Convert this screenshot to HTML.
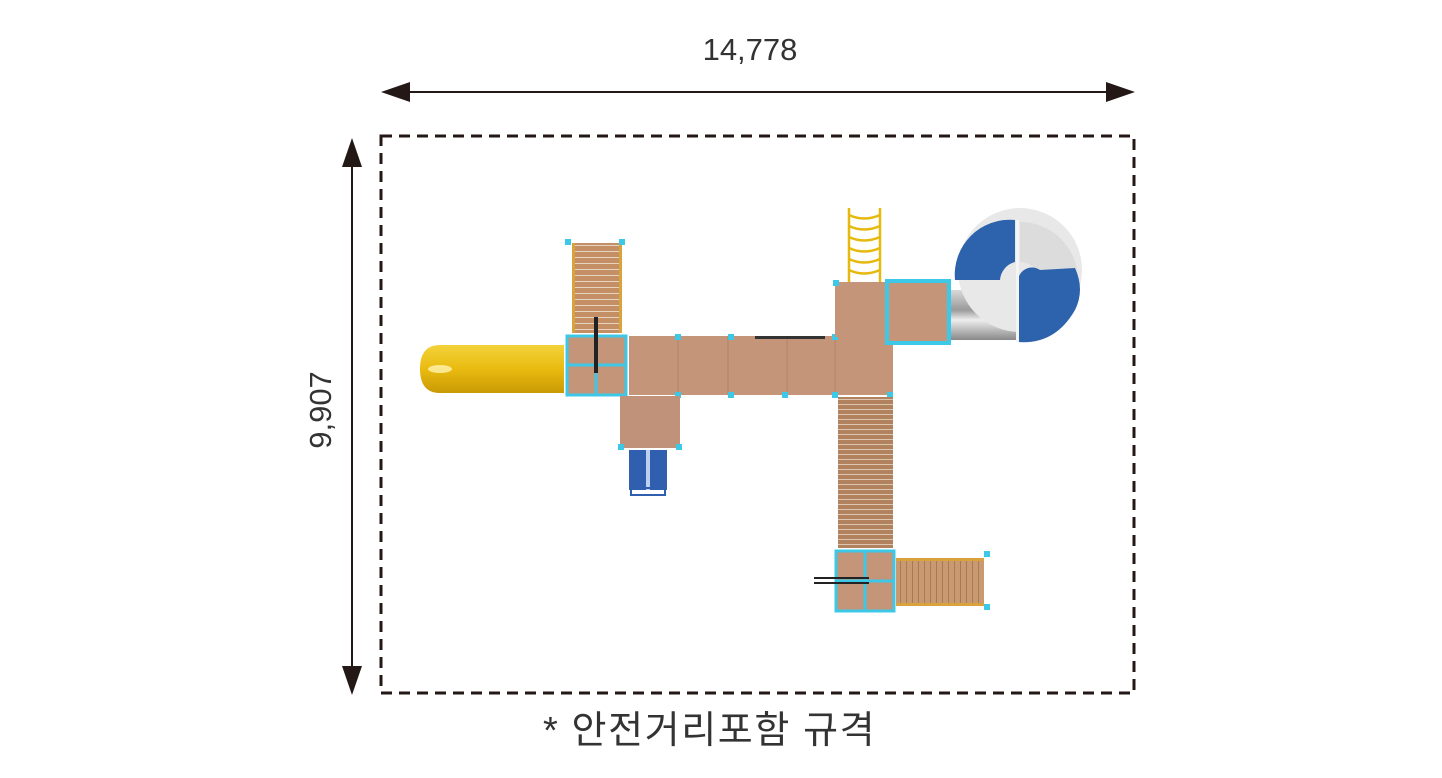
<!DOCTYPE html>
<html><head><meta charset="utf-8"><style>
html,body{margin:0;padding:0;background:#fff;width:1442px;height:778px;overflow:hidden}
svg{display:block}
</style></head><body>
<svg width="1442" height="778" viewBox="0 0 1442 778" xmlns="http://www.w3.org/2000/svg">
<defs>
<pattern id="wh" width="6" height="56" patternUnits="userSpaceOnUse"><rect width="6" height="56" fill="#c99a72"/><rect width="1" height="56" fill="#a87a55"/></pattern>
<pattern id="wv" width="56" height="6" patternUnits="userSpaceOnUse"><rect width="56" height="6" fill="#c48f65"/><rect y="5" width="56" height="1" fill="#e6d3c0"/></pattern>
<pattern id="wv2" width="56" height="5" patternUnits="userSpaceOnUse"><rect width="56" height="5" fill="#b2825f"/><rect y="4" width="56" height="1" fill="#dcc6b2"/></pattern>
<linearGradient id="yel" x1="0" y1="0" x2="0" y2="1"><stop offset="0" stop-color="#f3d23a"/><stop offset=".5" stop-color="#e9bb10"/><stop offset="1" stop-color="#c99a05"/></linearGradient>
<linearGradient id="gr" x1="0" y1="0" x2="0" y2="1"><stop offset="0" stop-color="#d9d9d9"/><stop offset=".4" stop-color="#9a9a9a"/><stop offset=".6" stop-color="#eee"/><stop offset="1" stop-color="#888"/></linearGradient>
</defs>

<line x1="405" y1="92" x2="1110" y2="92" stroke="#231815" stroke-width="2"/>
<polygon points="381,92 410,82 410,102" fill="#231815"/>
<polygon points="1135,92 1106,82 1106,102" fill="#231815"/>
<text x="750" y="60" text-anchor="middle" font-family="Liberation Sans, sans-serif" font-size="31" fill="#333">14,778</text>

<line x1="352" y1="165" x2="352" y2="670" stroke="#231815" stroke-width="2"/>
<polygon points="352,138 342,167 362,167" fill="#231815"/>
<polygon points="352,695 342,666 362,666" fill="#231815"/>
<text transform="translate(331,410) rotate(-90)" text-anchor="middle" font-family="Liberation Sans, sans-serif" font-size="31" fill="#333">9,907</text>

<rect x="381" y="136" width="753" height="557" fill="none" stroke="#231815" stroke-width="3" stroke-dasharray="11,7"/>

<text x="543" y="743" font-family="Liberation Sans, 'Noto Sans CJK KR', sans-serif" font-size="38" letter-spacing="1.6" fill="#333">* 안전거리포함 규격</text>

<path d="M565,345 L440,345 Q420,345 420,369 Q420,393 440,393 L565,393 Z" fill="url(#yel)"/>
<ellipse cx="440" cy="369" rx="12" ry="4" fill="#fff3b0" opacity=".8"/>

<rect x="572" y="243" width="50" height="92" fill="url(#wv)"/>
<rect x="572" y="243" width="3" height="92" fill="#d9a23a"/><rect x="619" y="243" width="3" height="92" fill="#d9a23a"/>
<rect x="565" y="239" width="6" height="6" fill="#3cc8e6"/><rect x="619" y="239" width="6" height="6" fill="#3cc8e6"/>

<rect x="628" y="336" width="265" height="59" fill="#c5957a"/>
<g stroke="#b48366" stroke-width="1"><line x1="678" y1="336" x2="678" y2="395"/><line x1="728" y1="336" x2="728" y2="395"/><line x1="787" y1="336" x2="787" y2="395"/><line x1="835" y1="336" x2="835" y2="395"/></g>
<rect x="755" y="336" width="70" height="3" fill="#333"/>
<g fill="#3cc8e6"><rect x="675" y="334" width="6" height="6"/><rect x="728" y="334" width="6" height="6"/><rect x="832" y="334" width="6" height="6"/><rect x="675" y="392" width="6" height="6"/><rect x="728" y="392" width="6" height="6"/><rect x="782" y="392" width="6" height="6"/><rect x="832" y="392" width="6" height="6"/><rect x="887" y="392" width="6" height="6"/></g>

<rect x="565" y="334" width="63" height="63" fill="#c5957a" stroke="#fff" stroke-width="2"/>
<rect x="567" y="336" width="59" height="59" fill="none" stroke="#3cc8e6" stroke-width="3"/>
<line x1="596" y1="336" x2="596" y2="395" stroke="#3cc8e6" stroke-width="3"/>
<line x1="567" y1="365" x2="626" y2="365" stroke="#3cc8e6" stroke-width="3"/>
<rect x="594" y="317" width="4" height="56" fill="#222"/>

<rect x="620" y="396" width="60" height="52" fill="#c0927a"/>
<rect x="618" y="444" width="6" height="6" fill="#3cc8e6"/><rect x="676" y="444" width="6" height="6" fill="#3cc8e6"/>
<rect x="629" y="450" width="38" height="40" fill="#2f5fae"/>
<rect x="646" y="450" width="4" height="40" fill="#bcd0f0"/>
<rect x="631" y="488" width="34" height="7" fill="none" stroke="#2f5fae" stroke-width="2"/>

<rect x="835" y="282" width="55" height="55" fill="#c5957a"/>
<rect x="833" y="280" width="6" height="6" fill="#3cc8e6"/>
<g fill="none" stroke="#e5b90d" stroke-width="2.5">
<line x1="849" y1="208" x2="849" y2="282"/><line x1="880" y1="208" x2="880" y2="282"/>
<path d="M849,215 Q864,222 880,215 M849,226 Q864,233 880,226 M849,237 Q864,244 880,237 M849,248 Q864,255 880,248 M849,259 Q864,266 880,259 M849,270 Q864,277 880,270"/>
</g>

<rect x="948" y="290" width="72" height="50" fill="url(#gr)"/>
<circle cx="1020" cy="270" r="62" fill="#e8e8e8"/>
<path d="M1015,220 A55,55 0 0 0 955,280 L1000,280 A20,20 0 0 1 1015,262 Z" fill="#2d62ad"/>
<path d="M1020,222 L1020,262 A20,20 0 0 1 1040,282 L1078,282 A58,58 0 0 0 1020,222 Z" fill="#dcdcdc"/>
<path d="M1018,282 A14,14 0 0 1 1040,270 L1075,268 Q1085,290 1075,310 Q1055,345 1018,342 Z" fill="#2d62ad"/>
<rect x="1016" y="220" width="3" height="122" fill="#f4f4f4"/>

<rect x="887" y="281" width="62" height="62" fill="#c5957a" stroke="#3cc8e6" stroke-width="4"/>

<rect x="838" y="397" width="55" height="153" fill="url(#wv2)"/>

<rect x="834" y="549" width="62" height="64" fill="#c5957a" stroke="#fff" stroke-width="2"/>
<rect x="836" y="551" width="58" height="60" fill="none" stroke="#3cc8e6" stroke-width="3"/>
<line x1="865" y1="551" x2="865" y2="611" stroke="#3cc8e6" stroke-width="3"/>
<line x1="836" y1="581" x2="894" y2="581" stroke="#3cc8e6" stroke-width="3"/>
<rect x="814" y="577" width="55" height="2" fill="#222"/><rect x="814" y="582" width="55" height="2" fill="#222"/>

<rect x="896" y="558" width="88" height="48" fill="url(#wh)"/>
<rect x="896" y="558" width="88" height="3" fill="#d9a23a"/><rect x="896" y="603" width="88" height="3" fill="#d9a23a"/>
<rect x="984" y="551" width="6" height="6" fill="#3cc8e6"/><rect x="984" y="604" width="6" height="6" fill="#3cc8e6"/>
</svg>
</body></html>
